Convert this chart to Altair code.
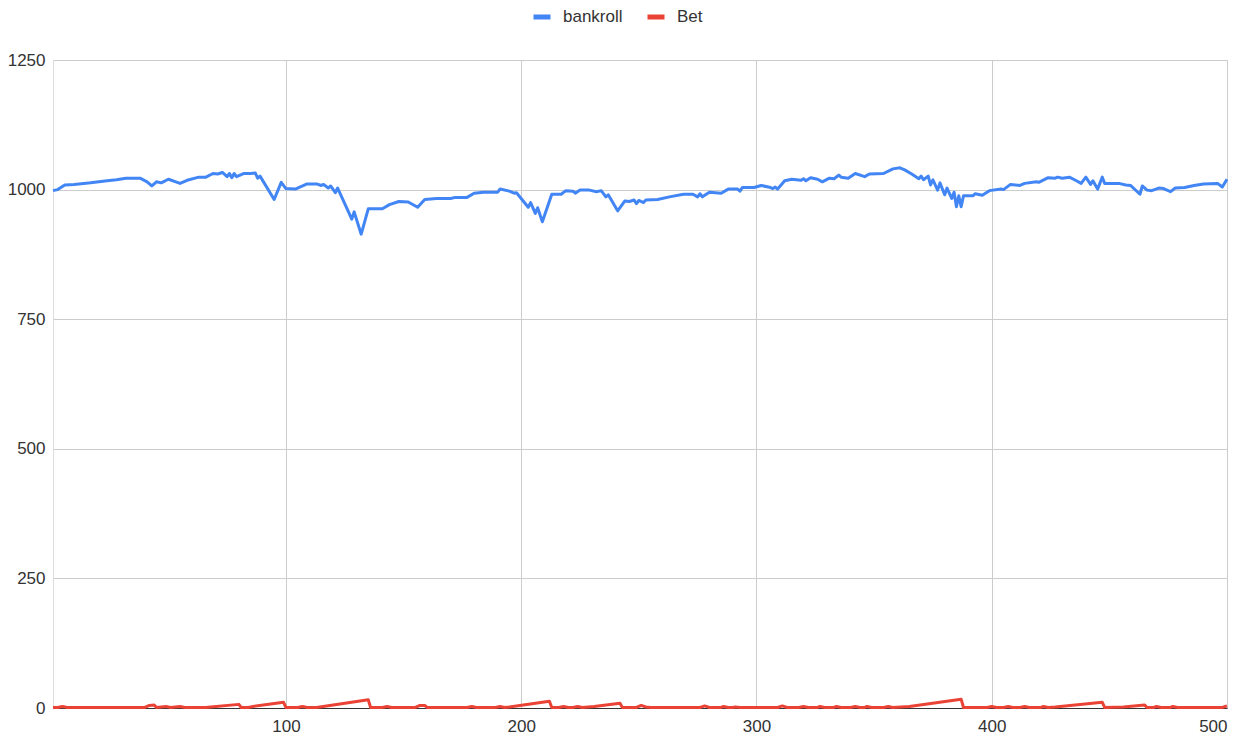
import altair as alt
import pandas as pd

# ---- data ----
bank_t = [1, 3, 6, 10, 17, 24, 28, 32, 38, 41,
          43, 45, 47, 50, 52, 55, 58, 63, 66, 69,
          71, 73, 75, 76, 77, 78, 79, 82, 85, 87,
          88, 89, 95, 98, 100, 104, 109, 113, 115, 116,
          118, 119, 121, 122, 128, 129, 132, 135, 141, 144,
          148, 152, 156, 159, 164, 170, 172, 177, 180, 184,
          190, 191, 195, 197, 198, 203, 204, 206, 207, 209,
          213, 217, 219, 222, 223, 225, 229, 232, 234, 236,
          237, 241, 244, 246, 248, 249, 250, 252, 253, 258,
          263, 269, 273, 275, 276, 277, 280, 285, 288, 292,
          293, 294, 299, 302, 306, 307, 308, 309, 312, 315,
          319, 320, 321, 323, 326, 328, 331, 333, 335, 336,
          339, 342, 346, 348, 354, 358, 361, 363, 366, 369,
          370, 371, 373, 374, 375, 377, 378, 380, 381, 383,
          384, 385, 386, 387, 388, 392, 393, 396, 399, 404,
          405, 408, 412, 414, 419, 420, 424, 427, 428, 430,
          433, 436, 438, 440, 442, 443, 445, 447, 448, 454,
          457, 459, 463, 464, 466, 468, 471, 473, 476, 478,
          482, 486, 490, 496, 498, 500]
bank_v = [998, 1000, 1009, 1010, 1013, 1017, 1019, 1022, 1022, 1015,
          1007, 1015, 1013, 1020, 1017, 1012, 1018, 1024, 1024, 1031,
          1030, 1033, 1025, 1031, 1023, 1031, 1025, 1031, 1031, 1032,
          1022, 1026, 981, 1014, 1002, 1001, 1011, 1011, 1008, 1010,
          1003, 1007, 994, 1003, 943, 957, 914, 963, 963, 971,
          977, 976, 966, 981, 983, 983, 985, 985, 993, 995,
          995, 1001, 997, 993, 994, 966, 975, 954, 965, 938,
          991, 991, 998, 997, 993, 999, 999, 996, 998, 986,
          990, 959, 978, 977, 980, 973, 979, 975, 980, 981,
          986, 991, 991, 986, 992, 986, 995, 993, 1001, 1001,
          997, 1004, 1004, 1008, 1004, 1002, 1005, 1001, 1017, 1020,
          1018, 1021, 1017, 1023, 1020, 1015, 1022, 1021, 1028, 1024,
          1022, 1031, 1025, 1030, 1031, 1040, 1042, 1038, 1030, 1021,
          1026, 1019, 1026, 1009, 1019, 999, 1013, 990, 1003, 983,
          995, 967, 988, 967, 988, 988, 992, 989, 998, 1001,
          1000, 1010, 1008, 1012, 1015, 1014, 1023, 1022, 1024, 1022,
          1024, 1017, 1012, 1024, 1010, 1017, 1001, 1024, 1012, 1012,
          1009, 1008, 991, 1007, 999, 998, 1003, 1002, 996, 1003,
          1004, 1008, 1011, 1012, 1005, 1020]

bet_t = [1, 3, 5, 7, 40, 42, 44, 45, 49, 51,
         55, 57, 66, 68, 80, 81, 84, 86, 99, 100,
         105, 107, 109, 113, 135, 136, 141, 143, 145, 155,
         157, 159, 160, 177, 179, 181, 189, 191, 193, 195,
         212, 213, 216, 218, 220, 222, 224, 226, 231, 242,
         243, 249, 251, 253, 255, 276, 278, 280, 285, 286,
         288, 290, 291, 293, 309, 311, 313, 318, 320, 322,
         326, 327, 329, 333, 334, 336, 340, 342, 344, 346,
         347, 349, 354, 356, 358, 365, 387, 388, 398, 400,
         402, 405, 407, 409, 412, 414, 416, 421, 422, 424,
         427, 447, 448, 456, 465, 466, 469, 470, 472, 476,
         477, 479, 498, 500]
bet_v = [1, 1, 3, 1, 1, 5, 6, 1, 3, 1,
         3, 1, 1, 2, 7, 1, 1, 3, 11, 1,
         1, 3, 1, 1, 16, 1, 1, 3, 1, 1,
         5, 5, 1, 1, 3, 1, 1, 3, 1, 2,
         13, 1, 1, 3, 1, 1, 3, 1, 3, 9,
         1, 1, 5, 2, 1, 1, 4, 1, 1, 3,
         1, 1, 2, 1, 1, 4, 1, 1, 3, 1,
         1, 3, 1, 1, 3, 1, 1, 3, 1, 1,
         3, 1, 1, 3, 1, 3, 17, 1, 1, 3,
         1, 1, 3, 1, 1, 3, 1, 1, 3, 1,
         2, 11, 1, 2, 6, 1, 1, 3, 1, 1,
         3, 1, 1, 4]

series_names = ["bankroll", "Bet"]
series_colors = ["#4285F4", "#EA4335"]
x_ticks = [100, 200, 300, 400, 500]
y_ticks = [0, 250, 500, 750, 1000, 1250]

df = pd.concat([
    pd.DataFrame({"round": bank_t, "value": bank_v, "series": "bankroll"}),
    pd.DataFrame({"round": bet_t, "value": bet_v, "series": "Bet"}),
])

FONT = "Liberation Sans"

chart = alt.Chart(df).mark_line(strokeWidth=3, strokeJoin="round").encode(
    x=alt.X("round:Q",
            scale=alt.Scale(domain=[1, 500], nice=False, zero=False),
            axis=alt.Axis(values=x_ticks, title=None, grid=True, gridColor="#cccccc",
                          domain=True, domainColor="#333333", domainWidth=1,
                          ticks=False, labelPadding=10, labelFontSize=17,
                          labelColor="#333333", labelFont=FONT, format="d")),
    y=alt.Y("value:Q",
            scale=alt.Scale(domain=[0, 1250], nice=False),
            axis=alt.Axis(values=y_ticks, title=None, grid=True, gridColor="#cccccc",
                          domain=False, ticks=False, labelPadding=8, labelFontSize=17,
                          labelColor="#333333", labelFont=FONT, format="d")),
    color=alt.Color("series:N",
                    scale=alt.Scale(domain=series_names, range=series_colors),
                    sort=series_names,
                    legend=alt.Legend(title=None, orient="none", legendX=478, legendY=-54,
                                      direction="horizontal", symbolType="stroke",
                                      symbolSize=289, symbolStrokeWidth=5,
                                      labelFontSize=17, labelFont=FONT,
                                      labelColor="#333333", labelOffset=10,
                                      columnPadding=14)),
    detail="series:N",
).properties(
    width=1174,
    height=648,
    autosize=alt.AutoSizeParams(type="none"),
    padding={"left": 45, "top": 52, "right": 16, "bottom": 27},
).configure_view(stroke=None).configure(background="white")

chart.save("out.html", embed_options={"renderer": "svg", "actions": False})
